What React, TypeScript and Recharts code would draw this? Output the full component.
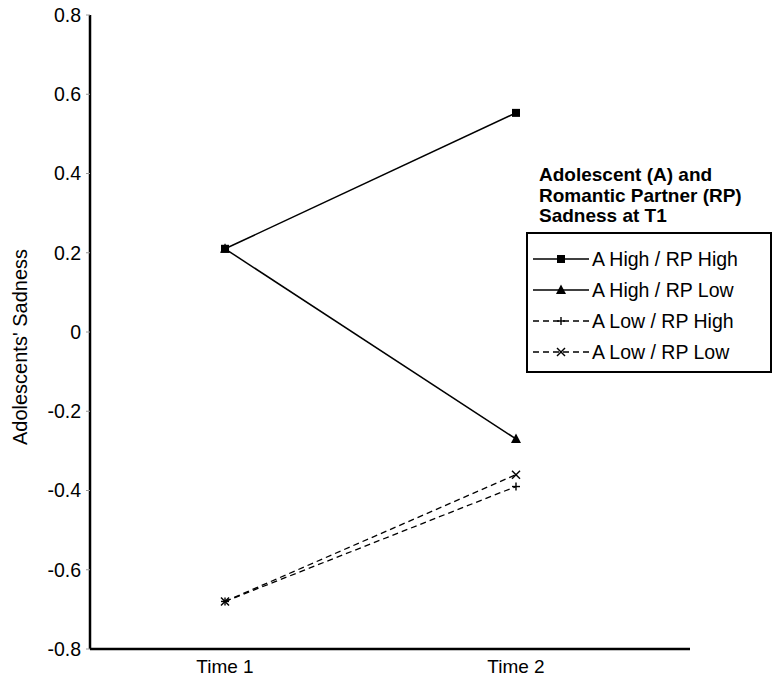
import { CartesianGrid, Legend, Line, LineChart, XAxis, YAxis } from "recharts";

const times = ['Time 1', 'Time 2'];
const timeX = [1, 2];
const highHigh = [0.21, 0.553];
const highLow = [0.21, -0.27];
const lowHigh = [-0.68, -0.39];
const lowLow = [-0.68, -0.36];
const yTicks = [0.8, 0.6, 0.4, 0.2, 0, -0.2, -0.4, -0.6, -0.8];
const legendTitle = ['Adolescent (A) and', 'Romantic Partner (RP)', 'Sadness at T1'];

const FONT = '"Liberation Sans", Arial, sans-serif';

const data = timeX.map((t, i) => ({
    t,
    hh: highHigh[i],
    hl: highLow[i],
    lh: lowHigh[i],
    ll: lowLow[i],
}));

type Mark = 'square' | 'triangle' | 'plus' | 'cross';

const series: { key: string; name: string; mark: Mark; dashed: boolean }[] = [
    { key: 'hh', name: 'A High / RP High', mark: 'square', dashed: false },
    { key: 'hl', name: 'A High / RP Low', mark: 'triangle', dashed: false },
    { key: 'lh', name: 'A Low / RP High', mark: 'plus', dashed: true },
    { key: 'll', name: 'A Low / RP Low', mark: 'cross', dashed: true },
];

function marker(mark: Mark, cx: number, cy: number, key?: string) {
    if (mark === 'square') {
        return <rect key={key} x={cx - 4} y={cy - 4} width={8} height={8} fill="#000" />;
    }
    if (mark === 'triangle') {
        return <polygon key={key} points={`${cx},${cy - 5.5} ${cx + 5},${cy + 4} ${cx - 5},${cy + 4}`} fill="#000" />;
    }
    if (mark === 'plus') {
        return (
            <g key={key} stroke="#000" strokeWidth={1.4}>
                <line x1={cx - 4} y1={cy} x2={cx + 4} y2={cy} />
                <line x1={cx} y1={cy - 4} x2={cx} y2={cy + 4} />
            </g>
        );
    }
    return (
        <g key={key} stroke="#000" strokeWidth={1.4}>
            <line x1={cx - 4} y1={cy - 4} x2={cx + 4} y2={cy + 4} />
            <line x1={cx - 4} y1={cy + 4} x2={cx + 4} y2={cy - 4} />
        </g>
    );
}

const LegendBox = () => (
    <div style={{ fontFamily: FONT, color: '#000', textAlign: 'left' }}>
        <div style={{ marginLeft: 13, fontWeight: 'bold', fontSize: 19, lineHeight: '20.5px', marginBottom: 5 }}>
            {legendTitle.map(l => <div key={l}>{l}</div>)}
        </div>
        <div style={{ border: '2px solid #000', padding: '10px 0 3px 0', width: 242 }}>
            {series.map(s => (
                <div key={s.key} style={{ display: 'flex', alignItems: 'center', height: 31 }}>
                    <svg width={56} height={14} style={{ marginLeft: 5, marginRight: 3 }}>
                        <line x1={0} y1={7} x2={56} y2={7} stroke="#000" strokeWidth={1.4}
                            strokeDasharray={s.dashed ? '6 4' : undefined} />
                        {marker(s.mark, 28, 7)}
                    </svg>
                    <span style={{ fontSize: 19.5 }}>{s.name}</span>
                </div>
            ))}
        </div>
    </div>
);

export default function App() {
    return (
        <div style={{ position: 'absolute', left: 0, top: 0 }}>
            <LineChart width={772} height={687} data={data} margin={{ top: 15, right: 82, left: 0, bottom: 0 }}>
                <CartesianGrid stroke="none" />
                <XAxis
                    dataKey="t"
                    type="number"
                    domain={[0.536, 2.598]}
                    ticks={timeX}
                    tickFormatter={(v) => times[timeX.indexOf(v)] ?? ''}
                    height={38}
                    tickLine={false}
                    tickSize={0}
                    tickMargin={11}
                    axisLine={{ stroke: '#000', strokeWidth: 2.5 }}
                    tick={{ fontSize: 19, fill: '#000', fontFamily: FONT }}
                />
                <YAxis
                    type="number"
                    domain={[-0.8, 0.8]}
                    ticks={yTicks}
                    width={90}
                    tickSize={4}
                    tickMargin={5}
                    tickFormatter={(v) => (v === 0 ? '0' : Number(v).toFixed(1))}
                    tickLine={{ stroke: '#999' }}
                    axisLine={{ stroke: '#000', strokeWidth: 2.5 }}
                    tick={{ fontSize: 19.5, fill: '#000', fontFamily: FONT }}
                    label={{
                        content: () => (
                            <text x={20} y={347} transform="rotate(-90 20 347)" textAnchor="middle"
                                dominantBaseline="central" fontSize={20} fontFamily={FONT} fill="#000">
                                Adolescents' Sadness
                            </text>
                        ),
                    }}
                />
                <Legend
                    layout="vertical"
                    align="center"
                    verticalAlign="middle"
                    content={() => <LegendBox />}
                    wrapperStyle={{ position: 'absolute', left: 526, top: 165, width: 246 }}
                />
                {series.map(s => (
                    <Line
                        key={s.key}
                        dataKey={s.key}
                        name={s.name}
                        stroke="#000"
                        strokeWidth={s.dashed ? 1.3 : 1.5}
                        strokeDasharray={s.dashed ? '6 4' : undefined}
                        dot={(p: any) => marker(s.mark, p.cx, p.cy, `${s.key}-${p.index}`)}
                        activeDot={false}
                        isAnimationActive={false}
                    />
                ))}
            </LineChart>
        </div>
    );
}
